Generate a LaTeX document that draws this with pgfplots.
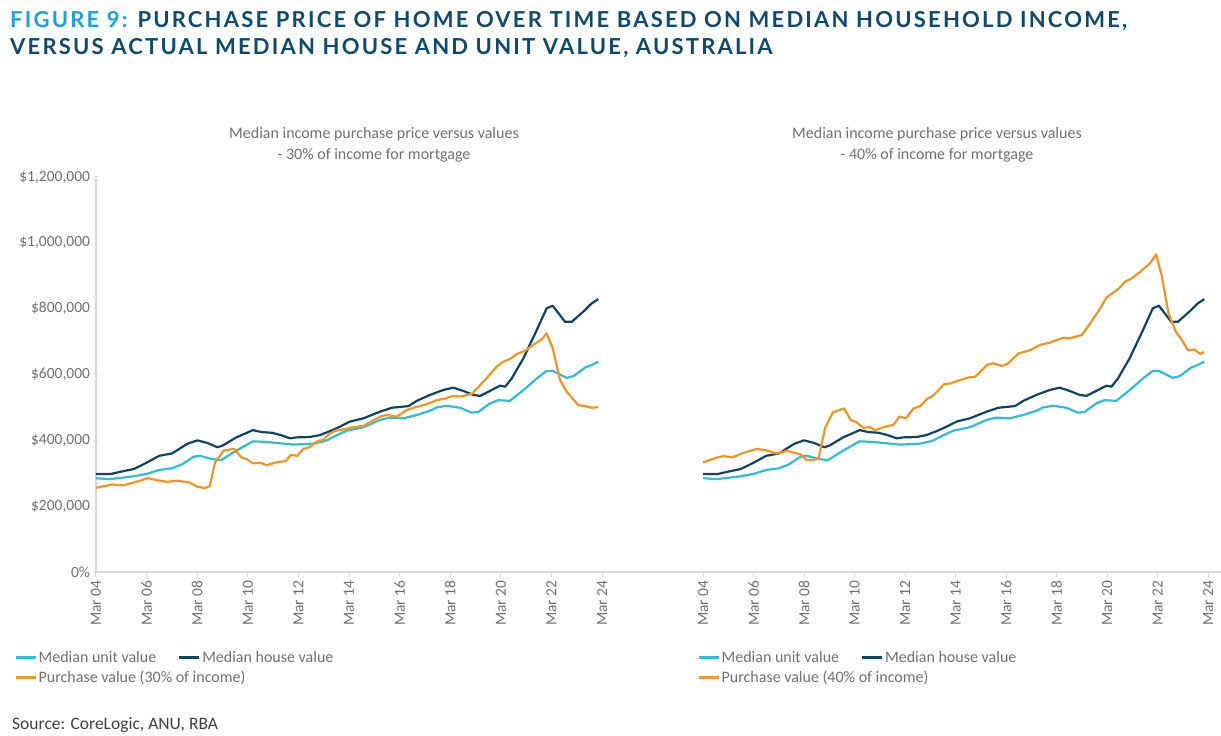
\documentclass[border=0pt]{standalone}
\usepackage{fontspec}
\setmainfont{Carlito}
\newfontfamily\titlefont{Lato}[LetterSpace=10]
\usepackage{pgfplots}
\usepackage{pgfplotstable}
\pgfplotsset{compat=1.18}

\definecolor{unitc}{HTML}{2DBFD6}
\definecolor{housec}{HTML}{0F4363}
\definecolor{buyc}{HTML}{F7931E}
\definecolor{titleblue}{HTML}{0D4A6E}
\definecolor{figcyan}{HTML}{1BA1DC}
\definecolor{txtgrey}{HTML}{707070}
\definecolor{axgrey}{HTML}{D9D9D9}

% values in $ thousands, x in years
\pgfplotstableread{
x v
2004.00 298
2004.60 298
2005.00 305
2005.50 313
2006.00 332
2006.50 353
2007.00 360
2007.60 389
2008.00 400
2008.40 392
2008.80 379
2009.00 384
2009.55 409
2010.20 431
2010.55 425
2010.95 423
2011.30 416
2011.67 406
2011.93 409
2012.45 410
2012.85 416
2013.25 428
2013.60 440
2014.04 457
2014.57 467
2015.23 487
2015.69 499
2016.35 504
2016.68 520
2017.20 538
2017.73 553
2018.12 560
2018.52 550
2018.91 538
2019.18 535
2019.57 550
2019.97 566
2020.17 563
2020.43 588
2020.89 649
2021.42 735
2021.81 801
2022.05 809
2022.54 760
2022.80 760
2023.26 791
2023.59 816
2023.85 829
}\house

\pgfplotstableread{
x v
2004.00 285
2004.50 282
2005.00 286
2005.50 291
2006.00 298
2006.50 310
2007.00 315
2007.40 327
2007.85 350
2008.10 353
2008.60 343
2008.95 340
2009.55 369
2010.20 397
2010.75 395
2011.80 387
2012.60 390
2013.10 399
2013.50 415
2013.90 429
2014.57 440
2015.23 462
2015.60 469
2016.15 467
2016.68 477
2017.20 490
2017.47 500
2017.86 505
2018.39 499
2018.85 484
2019.10 486
2019.57 512
2019.90 522
2020.36 520
2020.90 553
2021.42 588
2021.81 611
2022.05 611
2022.60 590
2022.87 595
2023.33 621
2023.59 629
2023.85 639
}\unit

\pgfplotstableread{
x v
2004.00 256
2004.65 266
2005.05 263
2005.60 274
2006.05 285
2006.40 279
2006.80 274
2007.20 277
2007.70 272
2008.00 259
2008.30 255
2008.50 261
2008.70 332
2009.05 369
2009.45 374
2009.75 348
2009.95 343
2010.20 330
2010.50 332
2010.75 324
2011.15 334
2011.50 337
2011.70 356
2011.95 353
2012.20 374
2012.45 379
2012.72 396
2013.00 403
2013.25 421
2013.45 429
2013.64 431
2014.04 438
2014.57 444
2015.23 472
2015.49 477
2015.89 472
2016.28 492
2016.68 502
2017.07 510
2017.47 522
2017.80 527
2018.12 535
2018.39 533
2018.85 541
2019.31 578
2019.84 624
2020.10 639
2020.36 647
2020.63 662
2020.96 672
2021.28 690
2021.62 707
2021.81 725
2022.05 680
2022.34 583
2022.60 548
2023.06 507
2023.33 504
2023.59 499
2023.85 501
}\buythirty

\pgfplotstableread{
x v
2004.00 333
2004.55 348
2004.82 352
2005.15 348
2005.60 362
2006.13 374
2006.53 369
2006.92 360
2007.32 368
2007.84 358
2008.10 340
2008.37 340
2008.57 345
2008.83 437
2009.14 485
2009.58 497
2009.85 462
2010.08 455
2010.35 438
2010.61 440
2010.81 431
2011.07 438
2011.34 444
2011.54 447
2011.78 472
2012.04 467
2012.33 497
2012.60 504
2012.87 526
2013.07 533
2013.33 553
2013.55 571
2013.80 573
2014.05 580
2014.51 591
2014.77 593
2015.24 629
2015.50 634
2015.83 626
2016.05 632
2016.49 664
2016.95 674
2017.35 690
2017.74 697
2018.27 712
2018.53 710
2019.00 720
2019.33 756
2019.66 793
2019.99 835
2020.45 860
2020.71 882
2020.98 892
2021.31 912
2021.70 938
2021.94 965
2022.17 897
2022.43 786
2022.72 730
2022.96 705
2023.20 674
2023.45 676
2023.68 663
2023.85 668
}\buyforty

\pgfplotsset{
  chart/.style={
    scale only axis, height=395pt, ymin=0, ymax=1200,
    axis x line=bottom,
    axis line style={draw=axgrey, line width=1.2pt, -},
    tick style={draw=axgrey, line width=1pt},
    tick align=outside, major tick length=5pt,
    xtick={2004,2006,...,2024},
    xticklabels={Mar 04,Mar 06,Mar 08,Mar 10,Mar 12,Mar 14,Mar 16,Mar 18,Mar 20,Mar 22,Mar 24},
    xticklabel style={rotate=90, anchor=east, font=\fontsize{15.5}{18}\selectfont, text=txtgrey},
    every axis plot/.append style={line width=2.2pt, line join=round},
    legend columns=2,
    legend cell align=left,
    legend image code/.code={\draw[##1, line width=3pt] (0pt,0pt) -- (20pt,0pt);},
    legend style={draw=none, fill=none, anchor=north west, inner sep=0pt,
      font=\fontsize{16}{19}\selectfont, text=txtgrey, row sep=4pt,
      nodes={inner sep=1.5pt},
      /tikz/every even column/.append style={column sep=20pt}},
    clip=false,
  }
}

\begin{document}
\begin{tikzpicture}
\path[use as bounding box] (0,0) rectangle (1221pt,736pt);

\node[anchor=base west, inner sep=0, font=\titlefont\bfseries\fontsize{22}{26}\selectfont, text=titleblue]
  at (10pt,708pt) {\textcolor{figcyan}{FIGURE 9:} PURCHASE PRICE OF HOME OVER TIME BASED ON MEDIAN HOUSEHOLD INCOME,};
\node[anchor=base west, inner sep=0, font=\titlefont\bfseries\fontsize{22}{26}\selectfont, text=titleblue]
  at (10pt,681pt) {VERSUS ACTUAL MEDIAN HOUSE AND UNIT VALUE, AUSTRALIA};

\node[align=center, font=\fontsize{16}{21}\selectfont, text=txtgrey] at (374pt,591pt)
  {Median income purchase price versus values\\- 30\% of income for mortgage};
\node[align=center, font=\fontsize{16}{21}\selectfont, text=txtgrey] at (937pt,591pt)
  {Median income purchase price versus values\\- 40\% of income for mortgage};

\begin{axis}[chart, at={(96pt,164pt)}, anchor=south west, width=524pt,
  xmin=2004, xmax=2024.71,
  axis y line=left,
  ytick={0,200,...,1200},
  yticklabels={{0\%},{\$200,000},{\$400,000},{\$600,000},{\$800,000},{\$1,000,000},{\$1,200,000}},
  yticklabel style={font=\fontsize{15.5}{18}\selectfont, text=txtgrey},
  legend style={at={(-0.1565,-0.196)}}]
\addplot[unitc] table[x=x, y=v] {\unit};
\addlegendentry{Median unit value}
\addplot[housec] table[x=x, y=v] {\house};
\addlegendentry{Median house value}
\addplot[buyc] table[x=x, y=v] {\buythirty};
\addlegendentry{\makebox[0pt][l]{Purchase value (30\% of income)}}
\end{axis}

\begin{axis}[chart, at={(620pt,164pt)}, anchor=south west, width=601pt,
  xmin=2000.71, xmax=2024.51,
  axis y line=none, ytick=\empty,
  legend style={at={(0.128,-0.196)}}]
\addplot[unitc] table[x=x, y=v] {\unit};
\addlegendentry{Median unit value}
\addplot[housec] table[x=x, y=v] {\house};
\addlegendentry{Median house value}
\addplot[buyc] table[x=x, y=v] {\buyforty};
\addlegendentry{\makebox[0pt][l]{Purchase value (40\% of income)}}
\end{axis}

\node[anchor=base west, inner sep=0, font=\fontsize{17.5}{20}\selectfont, text=black!75] at (12pt,6pt)
  {Source: CoreLogic, ANU, RBA};
\end{tikzpicture}
\end{document}
